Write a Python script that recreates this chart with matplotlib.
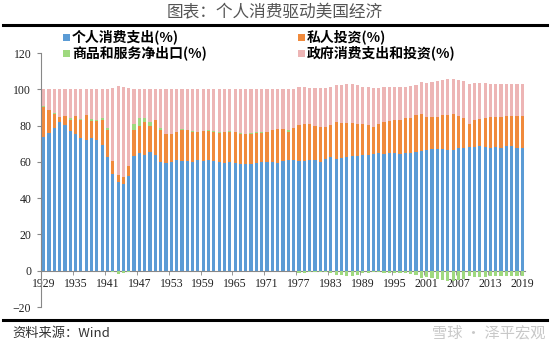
import numpy as np
import matplotlib
matplotlib.use("Agg")
import matplotlib.pyplot as plt
from matplotlib.patches import Rectangle
from matplotlib.lines import Line2D

plt.rcParams['font.family'] = ['Noto Sans CJK SC', 'DejaVu Sans']

# ── data (share of GDP, %) ──────────────────────────────────────────────
years = list(range(1929, 2020))

consumption = [
    73.8, 76.0, 78.8, 81.7, 80.2, 76.9, 75.1, 73.3, 72.0, 73.3,   # 1929-1938
    72.0, 69.2, 62.5, 53.3, 49.1, 47.8, 52.2, 63.2, 64.7, 63.6,   # 1939-1948
    65.2, 63.7, 60.1, 59.3, 59.7, 61.0, 60.6, 60.3, 60.1, 61.0,   # 1949-1958
    60.4, 60.8, 60.3, 59.9, 59.5, 59.9, 59.5, 58.8, 59.0, 59.0,   # 1959-1968
    59.2, 59.9, 59.7, 59.7, 59.3, 60.4, 61.0, 61.0, 60.3, 60.3,   # 1969-1978
    60.8, 60.8, 59.9, 61.7, 62.8, 61.5, 62.3, 62.8, 63.4, 63.2,   # 1979-1988
    63.7, 63.9, 64.3, 64.8, 64.5, 64.7, 64.7, 64.3, 65.0, 64.8,   # 1989-1998
    65.2, 65.9, 66.8, 67.0, 67.0, 67.0, 66.7, 66.7, 67.4, 67.8,   # 1999-2008
    68.3, 68.1, 68.7, 68.3, 67.6, 68.1, 67.8, 68.7, 68.9, 67.8,   # 2009-2018
    67.8,                                                          # 2019
]
investment = [
    16.5, 12.5, 7.8, 3.1, 5.0, 6.4, 10.1, 10.0, 13.7, 9.3,
    10.6, 14.1, 15.0, 7.3, 3.6, 4.0, 5.5, 14.6, 15.0, 18.5,
    14.7, 19.3, 17.7, 15.8, 15.4, 15.2, 17.2, 17.2, 16.1, 15.2,
    16.5, 16.3, 15.9, 16.1, 16.7, 16.5, 16.7, 16.8, 16.1, 16.5,
    16.8, 16.1, 16.9, 17.6, 18.7, 17.6, 15.6, 17.8, 19.9, 20.5,
    19.8, 18.9, 19.4, 17.6, 17.4, 20.2, 19.2, 18.7, 18.1, 17.9,
    16.9, 16.3, 15.0, 15.8, 17.2, 17.7, 18.1, 19.0, 19.2, 19.4,
    20.9, 20.3, 18.0, 17.8, 17.8, 18.7, 19.4, 19.6, 17.9, 16.6,
    12.8, 14.7, 14.8, 15.9, 17.0, 16.7, 17.2, 16.6, 16.4, 17.5,
    17.4,
]
net_exports = [
    0.5, 0.3, 0.2, 0.2, 0.2, 0.6, 0.1, 0.1, 0.3, 0.9,
    0.7, 1.1, 0.9, -0.5, -1.6, -1.2, -0.5, 2.8, 4.2, 1.8,
    1.8, 0.3, 1.0, 0.4, -0.1, 0.2, 0.2, 0.3, 0.9, 0.2,
    0.1, 0.5, 0.7, 0.6, 0.5, 0.7, 0.5, 0.5, 0.5, 0.3,
    0.2, 0.4, -0.1, -0.3, 0.3, -0.1, 0.8, -0.3, -1.3, -1.3,
    -0.9, -0.5, -0.5, -0.6, -1.5, -2.5, -2.6, -3.0, -3.0, -2.1,
    -1.5, -1.3, -0.5, -0.5, -1.0, -1.3, -1.2, -1.1, -1.1, -1.8,
    -2.6, -3.9, -3.5, -4.0, -4.5, -5.1, -5.6, -5.6, -4.9, -4.8,
    -2.7, -3.3, -3.6, -3.4, -2.9, -2.9, -2.9, -2.7, -2.8, -2.9,
    -2.8,
]
government = [
    9.2, 11.2, 13.2, 15.0, 14.6, 16.1, 14.7, 16.6, 14.0, 16.5,
    16.7, 15.6, 21.6, 39.9, 48.9, 49.4, 42.8, 19.4, 16.1, 16.1,
    18.3, 16.7, 21.2, 24.5, 25.0, 23.6, 22.0, 22.2, 22.9, 23.6,
    23.0, 22.4, 23.1, 23.4, 23.3, 22.9, 23.3, 23.9, 24.4, 24.2,
    23.8, 23.6, 23.5, 23.0, 21.7, 22.1, 22.6, 21.5, 21.1, 20.5,
    20.3, 20.8, 21.2, 21.3, 21.3, 20.8, 21.1, 21.5, 21.5, 21.0,
    20.9, 21.1, 21.2, 19.9, 19.3, 18.9, 18.4, 17.8, 16.9, 17.6,
    16.5, 17.7, 18.7, 19.2, 19.7, 19.4, 19.5, 19.3, 19.6, 20.4,
    21.6, 20.5, 20.1, 19.2, 18.3, 18.1, 17.9, 17.4, 17.5, 17.6,
    17.6,
]

labels = ["个人消费支出(%)", "私人投资(%)", "商品和服务净出口(%)", "政府消费支出和投资(%)"]
colors = ["#5B9BD5", "#F08A3C", "#9FD97F", "#EDB5B5"]

x = np.array(years)
c = np.array(consumption)
inv = np.array(investment)
nx = np.array(net_exports)
g = np.array(government)

fig = plt.figure(figsize=(5.5, 3.49), dpi=100)
ax = fig.add_axes([41 / 550, 1 - 307 / 349, 484 / 550, 254 / 349])

w = 0.6
ax.bar(x, c, w, color=colors[0], linewidth=0)
ax.bar(x, inv, w, bottom=c, color=colors[1], linewidth=0)
nx_bottom = np.where(nx >= 0, c + inv, 0)
ax.bar(x, nx, w, bottom=nx_bottom, color=colors[2], linewidth=0, zorder=3)
ax.bar(x, g, w, bottom=c + inv + np.clip(nx, 0, None), color=colors[3], linewidth=0)

ax.set_xlim(1928.5, 2019.5)
ax.set_ylim(-20, 120)
ax.set_yticks(range(-20, 121, 20))

# x: labels every 6 years, tick marks between categories
label_years = years[::6]
ax.set_xticks(label_years)
ax.set_xticklabels([str(y) for y in label_years])
ax.set_xticks(np.array(label_years) - 0.5, minor=True)
ax.tick_params(axis="x", which="major", length=0, pad=5)
ax.tick_params(axis="x", which="minor", length=3, color="#888888", direction="out")
ax.tick_params(axis="y", length=3, color="#888888", direction="out", pad=4)
ax.tick_params(axis="both", labelsize=8.5, labelcolor="#222222",
               labelfontfamily="Liberation Serif")

ax.spines["top"].set_visible(False)
ax.spines["right"].set_visible(False)
ax.spines["bottom"].set_position(("data", 0))
ax.spines["bottom"].set_color("#888888")
ax.spines["left"].set_color("#888888")

# title & rules
fig.text(0.5, 1 - 13 / 349, "图表：个人消费驱动美国经济", ha="center", va="center",
         fontsize=12, color="#555555")
fig.add_artist(Line2D([3 / 550, 547 / 550], [1 - 25 / 349] * 2, color="black", lw=2.2))
fig.add_artist(Line2D([3 / 550, 547 / 550], [1 - 320 / 349] * 2, color="black", lw=2.2))

# legend
legend_pos = [(63, 37), (298, 37), (63, 53), (298, 53)]
for (px, py), lab, col in zip(legend_pos, labels, colors):
    fig.add_artist(Rectangle((px / 550, 1 - (py + 3.5) / 349), 7 / 550, 7 / 349,
                             transform=fig.transFigure, color=col, lw=0))
    fig.text((px + 9) / 550, 1 - py / 349, lab, ha="left", va="center",
             fontsize=10, fontweight="bold", color="black")

# source & watermark
fig.text(12 / 550, 1 - 333 / 349, "资料来源：Wind", ha="left", va="center",
         fontsize=9.5, style="italic", color="#333333")
fig.text(545 / 550, 1 - 333 / 349, "雪球 · 泽平宏观", ha="right", va="center",
         fontsize=11, color="#C8C8C8")

fig.savefig("out.png", dpi=100)
